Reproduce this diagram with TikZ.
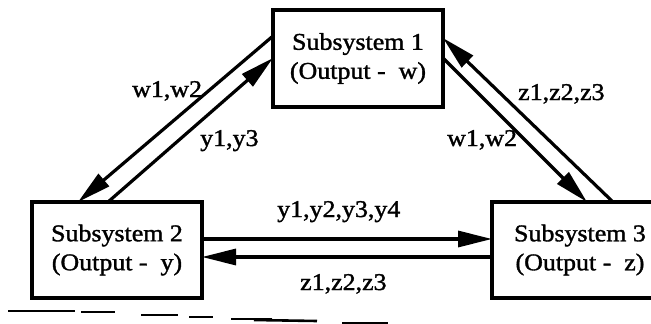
\documentclass[tikz,border=0pt]{standalone}
\usepackage{fontspec}
\setmainfont[FakeStretch=1.08,FakeBold=1.4]{Liberation Serif}
\usetikzlibrary{arrows.meta}
\tikzset{
  sysbox/.style={draw, line width=3.5pt, outer sep=0pt, inner sep=0pt, align=center,
    font=\fontsize{24}{29}\selectfont},
  conn/.style={line width=3.2pt, -{Triangle[length=34pt,width=16pt]}},
  lbl/.style={anchor=base west, inner sep=0pt, font=\fontsize{24}{29}\selectfont},
  scanline/.style={line width=2pt}
}
\begin{document}
\begin{tikzpicture}[x=1pt,y=-1pt]
\clip (0,0) rectangle (651,324);
\fill[white] (0,0) rectangle (651,324);
% boxes
\node[sysbox, minimum width=170pt, minimum height=97pt] (b1) at (358,58.5) {Subsystem 1\\(Output -\ \ w)};
\node[sysbox, minimum width=170pt, minimum height=96pt] (b2) at (117,250) {Subsystem 2\\(Output -\ \ y)};
\node[sysbox, minimum width=176pt, minimum height=96pt] (b3) at (580,250) {Subsystem 3\\(Output -\ \ z)};
% connectors
\draw[conn] ([yshift=-26pt]b1.north west) -- ([xshift=46pt]b2.north west);
\draw[conn] ([xshift=76pt]b2.north west) -- ([yshift=-48pt]b1.north west);
\draw[conn] ([xshift=121pt]b3.north west) -- ([yshift=-28pt]b1.north east);
\draw[conn] ([yshift=-48pt]b1.north east) -- ([xshift=95pt]b3.north west);
\draw[conn] ([yshift=-37pt]b2.north east) -- ([yshift=-37pt]b3.north west);
\draw[conn] ([yshift=-55pt]b3.north west) -- ([yshift=-55pt]b2.north east);
% labels
\node[lbl] (l1) at (132,97) {w1,w2};
\node[lbl] (l2) at (200,146) {y1,y3};
\node[lbl] (l3) at (518,100) {z1,z2,z3};
\node[lbl] (l4) at (447,146) {w1,w2};
\node[lbl] (l5) at (277,217) {y1,y2,y3,y4};
\node[lbl] (l6) at (300,290) {z1,z2,z3};
% scan artefact lines at bottom
\draw[scanline] (8,311) -- (75,311);
\draw[scanline] (81,312) -- (115,312);
\draw[scanline] (141,315) -- (178,315);
\draw[scanline] (189,317) -- (213,317);
\draw[scanline] (231,319) -- (272,319);
\draw[line width=2.6pt] (254,320) -- (317,321);
\draw[scanline] (342,323) -- (388,323);
\end{tikzpicture}
\end{document}
